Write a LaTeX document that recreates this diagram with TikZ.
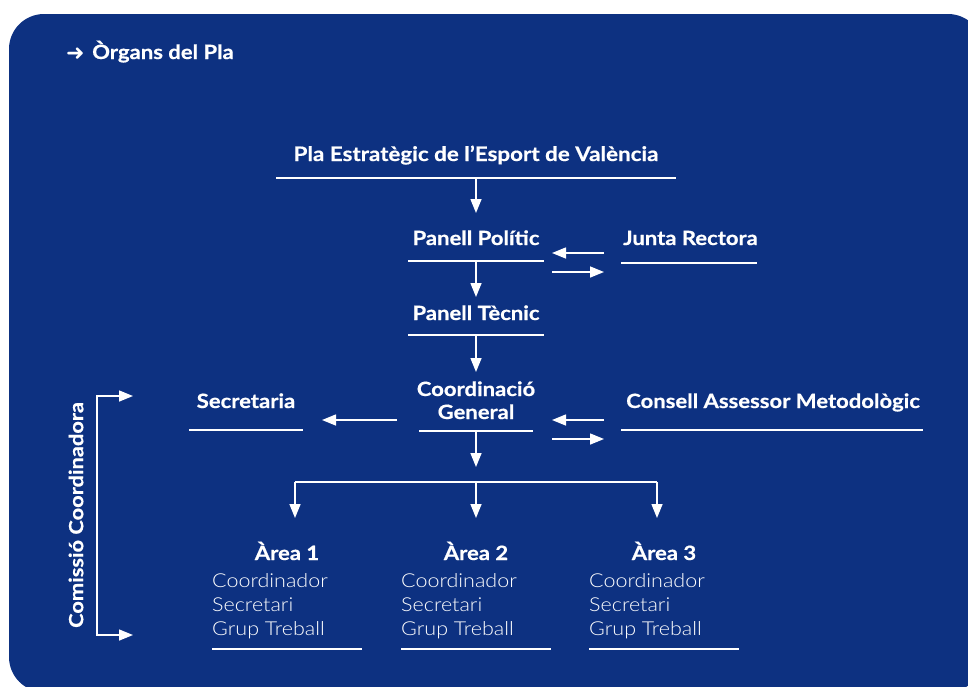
\documentclass[tikz,border=0pt]{standalone}
\usepackage{fontspec}
\setmainfont{Lato}[FakeStretch=1.12,BoldFeatures={FakeBold=0.6}]
\newfontfamily\lightf{Lato Light}[FakeStretch=1.12]
\newfontfamily\symf{DejaVu Sans}
\usetikzlibrary{arrows.meta}
\definecolor{bg}{HTML}{0D3181}
\begin{document}
\begin{tikzpicture}[x=1pt,y=-1pt,
  lab/.style={text=white,font=\bfseries\fontsize{19.7}{24}\selectfont,inner sep=0pt,anchor=base},
  sub/.style={text=white,font=\lightf\fontsize{19.2}{24}\selectfont,inner sep=0pt,anchor=base west},
  uline/.style={draw=white,line width=1.5pt},
  arr/.style={draw=white,line width=1.5pt,-{Triangle[width=11pt,length=14pt]}},
  darr/.style={draw=white,line width=1.5pt,{Triangle[width=11pt,length=14pt]}-{Triangle[width=11pt,length=14pt]}},
]
\useasboundingbox (0,0) rectangle (968,686);
\clip (0,0) rectangle (968,686);
\fill[bg,rounded corners=35pt] (9,14) rectangle (983,692);

% header
\node[text=white,inner sep=0pt,anchor=base west,font=\symf\bfseries\fontsize{22}{24}\selectfont] (harr) at (66,60) {➜};
\node[text=white,inner sep=0pt,anchor=base west,font=\bfseries\fontsize{19.7}{24}\selectfont] (head) at (92,59) {Òrgans del Pla};

% title
\node[lab,font=\bfseries\fontsize{20}{24}\selectfont] (pla) at (476,161) {Pla Estratègic de l’Esport de València};
\coordinate (plaL) at (276,178); \coordinate (plaR) at (676,178); \coordinate (plaM) at (476,178);
\coordinate (ppT) at (476,213);
\draw[uline] (plaL) -- (plaR);
\draw[arr] (plaM) -- (ppT);

% Panell Politic
\node[lab] (pp) at (476,245) {Panell Polític};
\coordinate (ppL) at (408,261); \coordinate (ppR) at (544,261); \coordinate (ppM) at (476,261);
\draw[uline] (ppL) -- (ppR);
\coordinate (ptT) at (476,297);
\draw[arr] (ppM) -- (ptT);

% Junta Rectora
\node[lab] (jr) at (690.5,245) {Junta Rectora};
\coordinate (jrL) at (621,263); \coordinate (jrR) at (757,263);
\draw[uline] (jrL) -- (jrR);
\coordinate (a1s) at (604,253); \coordinate (a1e) at (552,253);
\coordinate (a2s) at (552,272); \coordinate (a2e) at (604,272);
\draw[arr] (a1s) -- (a1e);
\draw[arr] (a2s) -- (a2e);

% Panell Tecnic
\node[lab] (pt) at (476,320) {Panell Tècnic};
\coordinate (ptL) at (408,335); \coordinate (ptR) at (544,335); \coordinate (ptM) at (476,335);
\draw[uline] (ptL) -- (ptR);
\coordinate (cgT) at (476,372);
\draw[arr] (ptM) -- (cgT);

% Coordinacio General
\node[lab] (cg1) at (476,396) {Coordinació};
\node[lab] (cg2) at (476,419) {General};
\coordinate (cgL) at (419,431); \coordinate (cgR) at (533,431); \coordinate (cgM) at (476,431);
\draw[uline] (cgL) -- (cgR);
\coordinate (brT) at (476,467);
\draw[arr] (cgM) -- (brT);

% Consell
\node[lab] (cam) at (773,408) {Consell Assessor Metodològic};
\coordinate (camL) at (621,430); \coordinate (camR) at (923,430);
\draw[uline] (camL) -- (camR);
\coordinate (b1s) at (604,420); \coordinate (b1e) at (552,420);
\coordinate (b2s) at (552,439); \coordinate (b2e) at (604,439);
\draw[arr] (b1s) -- (b1e);
\draw[arr] (b2s) -- (b2e);

% Secretaria
\node[lab] (sec) at (246,408) {Secretaria};
\coordinate (secL) at (189,430); \coordinate (secR) at (303,430);
\draw[uline] (secL) -- (secR);
\coordinate (s1s) at (397,420); \coordinate (s1e) at (322,420);
\draw[arr] (s1s) -- (s1e);

% Comissio bracket
\coordinate (kT) at (133,396); \coordinate (kB) at (133,635);
\draw[darr] (kT) -- (97,396) -- (97,635) -- (kB);
\node[text=white,inner sep=0pt,font=\bfseries\fontsize{19.5}{24}\selectfont,rotate=90] (com) at (76,515) {Comissió Coordinadora};

% branch
\coordinate (brL) at (295,482); \coordinate (brM) at (476,482); \coordinate (brR) at (657,482);
\draw[uline] (brL) -- (brR);
\coordinate (ar1) at (295,518); \coordinate (ar2) at (476,518); \coordinate (ar3) at (657,518);
\draw[arr] (brL) -- (ar1);
\draw[arr] (brM) -- (ar2);
\draw[arr] (brR) -- (ar3);

% Areas
\foreach \n/\c/\l in {1/287/212, 2/476/401, 3/664/589}{
  \node[lab] (area\n) at (\c,560) {Àrea \n};
  \node[sub] (coord\n) at (\l,587) {Coordinador};
  \node[sub] (secr\n) at (\l,611) {Secretari};
  \node[sub] (grup\n) at (\l,635) {Grup Treball};
  \coordinate (arL\n) at (\l,649);
  \coordinate (arR\n) at (\l+150,649);
  \draw[uline] (arL\n) -- (arR\n);
}
\end{tikzpicture}
\end{document}
